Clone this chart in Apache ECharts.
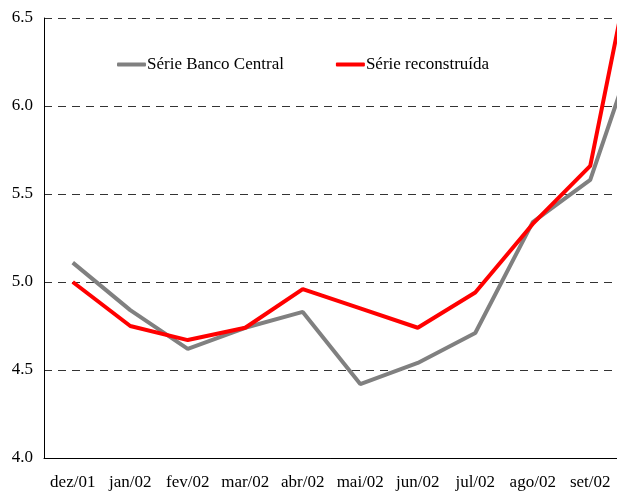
<!DOCTYPE html>
<html>
<head>
<meta charset="utf-8">
<script src="https://cdn.jsdelivr.net/npm/echarts@6/dist/echarts.min.js"></script>
<style>
  html, body { margin: 0; padding: 0; background: #fff; }
  #chart { width: 617px; height: 493px; }
</style>
</head>
<body>
<div id="chart"></div>
<script>
// meses (o último fica cortado na borda direita, como no original)
const months = ['dez/01', 'jan/02', 'fev/02', 'mar/02', 'abr/02', 'mai/02', 'jun/02', 'jul/02', 'ago/02', 'set/02', 'out/02'];
const serieBC = [5.11, 4.84, 4.62, 4.74, 4.83, 4.42, 4.54, 4.71, 5.34, 5.58, 6.54];
const serieRec = [5.00, 4.75, 4.67, 4.74, 4.96, 4.85, 4.74, 4.94, 5.33, 5.66, 7.28];

const font = 'Liberation Serif, Times New Roman, serif';

let chart = echarts.init(document.getElementById('chart'));

const option = {
  animation: false,
  grid: {
    left: 44,
    top: 18,
    width: 632.5,
    height: 440,
    outerBoundsMode: 'none',
    containLabel: false
  },
  legend: {
    left: 112,
    top: 51,
    itemWidth: 29,
    itemHeight: 4,
    itemGap: 52,
    icon: 'roundRect',
    textStyle: { fontFamily: font, fontSize: 17, color: '#000', padding: [0, 0, 0, -4] },
    data: ['Série Banco Central', 'Série reconstruída']
  },
  xAxis: {
    type: 'category',
    data: months,
    boundaryGap: true,
    axisLine: { lineStyle: { color: '#000', width: 1 } },
    axisTick: { show: false },
    axisLabel: { fontFamily: font, fontSize: 17, color: '#000', margin: 16, interval: 0 }
  },
  yAxis: {
    type: 'value',
    min: 4.0,
    max: 6.5,
    interval: 0.5,
    axisLine: { show: true, lineStyle: { color: '#000', width: 1 } },
    axisTick: { show: false },
    axisLabel: {
      fontFamily: font, fontSize: 17, color: '#000', margin: 11,
      formatter: v => v.toFixed(1)
    },
    splitLine: { lineStyle: { color: '#333', type: [8, 6], width: 1 } }
  },
  series: [
    {
      name: 'Série Banco Central',
      type: 'line',
      data: serieBC,
      symbol: 'none',
      color: '#808080',
      lineStyle: { width: 4, color: '#808080' }
    },
    {
      name: 'Série reconstruída',
      type: 'line',
      data: serieRec,
      symbol: 'none',
      color: '#ff0000',
      lineStyle: { width: 4, color: '#ff0000' }
    }
  ]
};

chart.setOption(option);
</script>
</body>
</html>
